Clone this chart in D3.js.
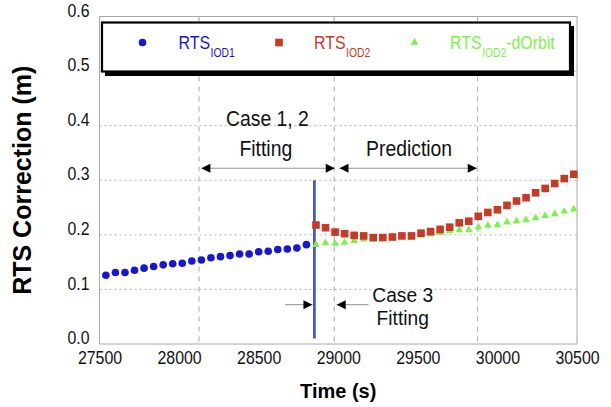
<!DOCTYPE html>
<html>
<head>
<meta charset="utf-8">
<script src="https://cdn.jsdelivr.net/npm/d3@7"></script>
<style>
  body { margin: 0; background: #fff; }
  svg { display: block; font-family: "Liberation Sans", Arial, sans-serif; }
</style>
</head>
<body>
<svg id="chart" width="611" height="407"></svg>
<script>
// ---- data ----
const iod1Time = [27540, 27600, 27660, 27720, 27780, 27840, 27900, 27960, 28020, 28080, 28140,
    28200, 28260, 28320, 28380, 28440, 28500, 28560, 28620, 28680, 28740, 28800];
const iod1Value = [0.126, 0.131, 0.131, 0.135, 0.139, 0.142, 0.145, 0.147, 0.148, 0.152, 0.154,
    0.158, 0.160, 0.162, 0.165, 0.165, 0.169, 0.170, 0.173, 0.174, 0.176, 0.182];

const iod2Time = [28860, 28920, 28980, 29040, 29100, 29160, 29220, 29280, 29340, 29400, 29460,
    29520, 29580, 29640, 29700, 29760, 29820, 29880, 29940, 30000, 30060, 30120, 30180, 30240,
    30300, 30360, 30420, 30480];
const iod2Value = [0.218, 0.213, 0.205, 0.202, 0.199, 0.198, 0.195, 0.195, 0.196, 0.198, 0.198,
    0.203, 0.206, 0.210, 0.214, 0.222, 0.225, 0.234, 0.241, 0.246, 0.254, 0.262, 0.268, 0.277,
    0.285, 0.294, 0.303, 0.311];
const dOrbitValue = [0.182, 0.185, 0.184, 0.186, 0.189, 0.192, 0.192, 0.193, 0.195, 0.198, 0.198,
    0.199, 0.201, 0.204, 0.207, 0.209, 0.209, 0.214, 0.217, 0.218, 0.223, 0.225, 0.227, 0.231,
    0.235, 0.238, 0.243, 0.247];

const xTicks = [27500, 28000, 28500, 29000, 29500, 30000, 30500];
const yTicks = [0.0, 0.1, 0.2, 0.3, 0.4, 0.5, 0.6];

// window boundaries (dashed) and the cut between IOD1 and IOD2
const boundaryTimes = [28125, 28975, 29875];
const cutTime = 28850;

const seriesNames = ["RTS", "RTS", "RTS"];
const seriesSubs = ["IOD1", "IOD2", "IOD2"];
const seriesSuffix = ["", "", "-dOrbit"];

const colors = { blue: "#1616d4", red: "#c83a26", green: "#7ef04e", cut: "#4858c0", grid: "#b4b4b4", frame: "#a8a8a8" };

// ---- layout ----
const width = 611, height = 407;
const margin = { top: 16.5, right: 34, bottom: 63, left: 99.5 };

const svg = d3.select("#chart").attr("viewBox", [0, 0, width, height]);

const x = d3.scaleLinear()
    .domain([27500, 30500])
    .range([margin.left, width - margin.right]);

const y = d3.scaleLinear()
    .domain([0, 0.6])
    .range([height - margin.bottom, margin.top]);

// regular text in the picture is narrow and tall; returns the squeezed width
function squeeze(sel, k) {
    let w = 0;
    sel.each(function () {
        const len = this.getComputedTextLength();
        w = len * k;
        d3.select(this).attr("textLength", w).attr("lengthAdjust", "spacingAndGlyphs");
    });
    return w;
}

// horizontal dotted grid
svg.append("g")
    .selectAll("line")
    .data(yTicks.slice(1, -1))
    .join("line")
    .attr("x1", x.range()[0]).attr("x2", x.range()[1])
    .attr("y1", d => y(d)).attr("y2", d => y(d))
    .attr("stroke", colors.grid)
    .attr("stroke-dasharray", "2,3");

// vertical dashed boundaries
svg.append("g")
    .selectAll("line")
    .data(boundaryTimes)
    .join("line")
    .attr("x1", d => x(d)).attr("x2", d => x(d))
    .attr("y1", y(0.6)).attr("y2", y(0))
    .attr("stroke", colors.grid)
    .attr("stroke-width", 1.2)
    .attr("stroke-dasharray", "5,5");

// frame
svg.append("rect")
    .attr("x", x.range()[0]).attr("y", y(0.6))
    .attr("width", x.range()[1] - x.range()[0])
    .attr("height", y(0) - y(0.6))
    .attr("fill", "none")
    .attr("stroke", colors.frame);

// axes
const xAxis = svg.append("g")
    .attr("transform", `translate(0,${y(0)})`)
    .call(d3.axisBottom(x).tickValues(xTicks).tickFormat(d3.format("d")).tickSize(0).tickPadding(7));
xAxis.select(".domain").remove();
xAxis.selectAll("text")
    .attr("font-size", 18.5)
    .attr("font-family", "Liberation Sans, Arial, sans-serif")
    .attr("fill", "#111")
    .call(squeeze, 0.86);

const yAxis = svg.append("g")
    .attr("transform", `translate(${x.range()[0]},0)`)
    .call(d3.axisLeft(y).tickValues(yTicks).tickFormat(d3.format(".1f")).tickSize(0).tickPadding(10));
yAxis.select(".domain").remove();
yAxis.selectAll("text")
    .attr("font-size", 18)
    .attr("font-family", "Liberation Sans, Arial, sans-serif")
    .attr("fill", "#111")
    .attr("dy", "-0.02em")
    .call(squeeze, 0.88);

// axis titles
svg.append("text")
    .attr("x", x(29000)).attr("y", 398)
    .attr("text-anchor", "middle")
    .attr("font-size", 20).attr("font-weight", "bold")
    .text("Time (s)");

svg.append("text")
    .attr("transform", `translate(31,${(y(0) + y(0.6)) / 2}) rotate(-90)`)
    .attr("text-anchor", "middle")
    .attr("font-size", 25).attr("font-weight", "bold")
    .text("RTS Correction (m)");

// cut line
svg.append("line")
    .attr("x1", x(cutTime)).attr("x2", x(cutTime))
    .attr("y1", y(0.3)).attr("y2", y(0.01))
    .attr("stroke", colors.cut)
    .attr("stroke-width", 2.8);

// markers
const triangle = d3.symbol().type(d3.symbolTriangle).size(26);

svg.append("g")
    .selectAll("circle")
    .data(iod1Time)
    .join("circle")
    .attr("cx", d => x(d))
    .attr("cy", (d, i) => y(iod1Value[i]))
    .attr("r", 3.8)
    .attr("fill", colors.blue);

svg.append("g")
    .selectAll("path")
    .data(iod2Time)
    .join("path")
    .attr("d", triangle)
    .attr("transform", (d, i) => `translate(${x(d)},${y(dOrbitValue[i])})`)
    .attr("fill", colors.green);

svg.append("g")
    .selectAll("rect")
    .data(iod2Time)
    .join("rect")
    .attr("x", d => x(d) - 3.8)
    .attr("y", (d, i) => y(iod2Value[i]) - 3.8)
    .attr("width", 7.6).attr("height", 7.6)
    .attr("fill", colors.red);

// annotations
function arrowHead(g, tipX, tipY, dir) {
    g.append("path")
        .attr("d", `M${tipX},${tipY} L${tipX - dir * 9},${tipY - 4.5} L${tipX - dir * 9},${tipY + 4.5} Z`)
        .attr("fill", "#000");
}

function spanArrow(from, to, yv) {
    const g = svg.append("g");
    g.append("line")
        .attr("x1", x(from)).attr("x2", x(to))
        .attr("y1", y(yv)).attr("y2", y(yv))
        .attr("stroke", "#909090");
    arrowHead(g, x(from), y(yv), -1);
    arrowHead(g, x(to), y(yv), 1);
}

function pointArrow(tail, tip, yv) {
    const g = svg.append("g");
    g.append("line")
        .attr("x1", x(tail)).attr("x2", x(tip))
        .attr("y1", y(yv)).attr("y2", y(yv))
        .attr("stroke", "#909090");
    arrowHead(g, x(tip), y(yv), tip > tail ? 1 : -1);
}

spanArrow(28140, 28978, 0.322);
spanArrow(29008, 29870, 0.322);
pointArrow(28665, 28838, 0.072);
pointArrow(29190, 28990, 0.072);

const notes = [
    { t: 28555, v: 0.399, s: "Case 1, 2", size: 22, k: 0.88 },
    { t: 28545, v: 0.345, s: "Fitting", size: 22, k: 0.88 },
    { t: 29445, v: 0.345, s: "Prediction", size: 22, k: 0.88 },
    { t: 29405, v: 0.077, s: "Case 3", size: 20, k: 0.96 },
    { t: 29405, v: 0.034, s: "Fitting", size: 20, k: 0.96 }
];
svg.append("g")
    .selectAll("text")
    .data(notes)
    .join("text")
    .attr("x", d => x(d.t))
    .attr("y", d => y(d.v))
    .attr("text-anchor", "middle")
    .attr("font-size", d => d.size)
    .attr("fill", "#111")
    .text(d => d.s)
    .each(function (d) { squeeze(d3.select(this), d.k); });

// legend
const legend = svg.append("g");
legend.append("rect")
    .attr("x", 105).attr("y", 26)
    .attr("width", 469).attr("height", 50)
    .attr("fill", "#000");
legend.append("rect")
    .attr("x", 102).attr("y", 22.5)
    .attr("width", 468).attr("height", 49)
    .attr("fill", "#fff")
    .attr("stroke", "#000")
    .attr("stroke-width", 2.2);

const legendColors = [colors.blue, colors.red, colors.green];
const markerX = [142.5, 279, 414.5];
const labelX = [178.5, 314, 450];

legend.append("circle").attr("cx", markerX[0]).attr("cy", 42.5).attr("r", 3.8).attr("fill", colors.blue);
legend.append("rect").attr("x", markerX[1] - 3.8).attr("y", 38.7).attr("width", 7.6).attr("height", 7.6).attr("fill", colors.red);
legend.append("path").attr("d", triangle).attr("transform", `translate(${markerX[2]},42.5)`).attr("fill", colors.green);

seriesNames.forEach((name, i) => {
    const main = legend.append("text")
        .attr("x", labelX[i]).attr("y", 48.5)
        .attr("font-size", 18.5)
        .attr("fill", legendColors[i])
        .text(name);
    const mainEnd = labelX[i] + squeeze(main, 0.86) + 0.5;
    const sub = legend.append("text")
        .attr("x", mainEnd).attr("y", 57)
        .attr("font-size", 12)
        .attr("fill", legendColors[i])
        .text(seriesSubs[i]);
    const subEnd = mainEnd + squeeze(sub, 0.86);
    if (seriesSuffix[i]) {
        const suffix = legend.append("text")
            .attr("x", subEnd).attr("y", 48.5)
            .attr("font-size", 18.5)
            .attr("fill", legendColors[i])
            .text(seriesSuffix[i]);
        squeeze(suffix, 0.86);
    }
});
</script>
</body>
</html>
